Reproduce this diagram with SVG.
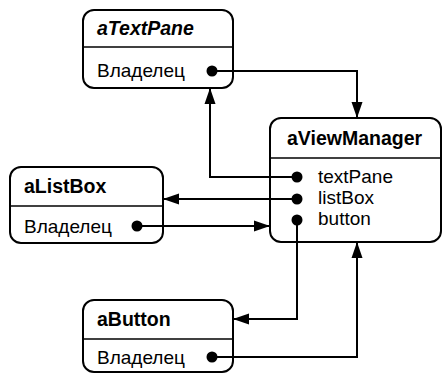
<svg xmlns="http://www.w3.org/2000/svg" width="443" height="377" viewBox="0 0 443 377">
<defs>
<style>
.box{fill:#fff;stroke:#000;stroke-width:2}
.div{stroke:#000;stroke-width:1.5}
.title{font-family:"Liberation Sans",Arial,sans-serif;font-weight:bold;font-size:19.5px;fill:#000}
.it{font-style:italic}
.txt{font-family:"Liberation Sans",Arial,sans-serif;font-size:19px;fill:#000}
.wire{fill:none;stroke:#000;stroke-width:2}
.dot{fill:#000}
</style>
<marker id="ah" markerWidth="18" markerHeight="12" refX="16" refY="6" orient="auto" markerUnits="userSpaceOnUse">
<path d="M0,0.5 L16,6 L0,11.5 Z" fill="#000"/>
</marker>
</defs>
<g id="aTextPane">
<rect class="box" x="83" y="10" width="150" height="78" rx="11"/>
<line class="div" x1="83" y1="47" x2="233" y2="47"/>
<text class="title it" x="97" y="35">aTextPane</text>
<text class="txt" x="97" y="77">Владелец</text>
<circle class="dot" cx="212" cy="71" r="5.5"/>
</g>
<g id="aViewManager">
<rect class="box" x="270" y="118" width="171" height="124" rx="11"/>
<line class="div" x1="270" y1="158" x2="441" y2="158"/>
<text class="title" x="287" y="145">aViewManager</text>
<text class="txt" x="318" y="183">textPane</text>
<text class="txt" x="318" y="204">listBox</text>
<text class="txt" x="318" y="225">button</text>
<circle class="dot" cx="297" cy="177" r="5.5"/>
<circle class="dot" cx="297" cy="199" r="5.5"/>
<circle class="dot" cx="297" cy="220" r="5.5"/>
</g>
<g id="aListBox">
<rect class="box" x="10" y="167" width="153" height="76" rx="11"/>
<line class="div" x1="10" y1="206" x2="163" y2="206"/>
<text class="title" x="24" y="193">aListBox</text>
<text class="txt" x="24" y="233">Владелец</text>
<circle class="dot" cx="137" cy="226" r="5.5"/>
</g>
<g id="aButton">
<rect class="box" x="83" y="300" width="150" height="72" rx="11"/>
<line class="div" x1="83" y1="339" x2="233" y2="339"/>
<text class="title" x="97" y="326">aButton</text>
<text class="txt" x="97" y="364">Владелец</text>
<circle class="dot" cx="212" cy="357" r="5.5"/>
</g>
<g id="connectors">
<path class="wire" d="M212,71 H357 V118" marker-end="url(#ah)"/>
<path class="wire" d="M297,177 H210 V88" marker-end="url(#ah)"/>
<path class="wire" d="M297,199 H163" marker-end="url(#ah)"/>
<path class="wire" d="M137,226 H270" marker-end="url(#ah)"/>
<path class="wire" d="M297,220 V319 H233" marker-end="url(#ah)"/>
<path class="wire" d="M212,357 H357 V242" marker-end="url(#ah)"/>
</g>
</svg>
